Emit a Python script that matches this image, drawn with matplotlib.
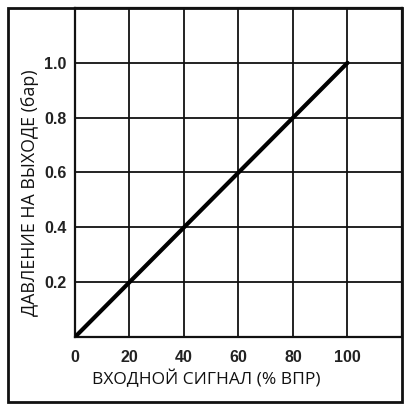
import matplotlib.pyplot as plt
from matplotlib.patches import Rectangle

# Данные
signal = [0, 100]
pressure = [0.0, 1.0]
x_ticks = [0, 20, 40, 60, 80, 100]
y_ticks = [0.2, 0.4, 0.6, 0.8, 1.0]
x_grid = [20, 40, 60, 80, 100]
y_grid = [0.2, 0.4, 0.6, 0.8, 1.0]

W, H = 410, 411
fig = plt.figure(figsize=(W / 100, H / 100), dpi=100)
ax = fig.add_axes([75 / W, (H - 337) / H, (402 - 75) / W, (337 - 8) / H])

ax.set_xlim(0, 120)
ax.set_ylim(0, 1.2)

for gx in x_grid:
    ax.axvline(gx, color='#111111', lw=1.3, zorder=1)
for gy in y_grid:
    ax.axhline(gy, color='#111111', lw=1.3, zorder=1)

ax.plot(signal, pressure, color='black', lw=3, solid_capstyle='round', zorder=3)

ax.set_xticks(x_ticks)
ax.set_yticks(y_ticks)
ax.set_xticklabels([str(t) for t in x_ticks])
ax.set_yticklabels(['%.1f' % t for t in y_ticks])
ax.tick_params(axis='x', length=0, pad=9)
ax.tick_params(axis='y', length=0, pad=6)
for lab in ax.get_xticklabels() + ax.get_yticklabels():
    lab.set_fontfamily('Liberation Sans')
    lab.set_fontweight('bold')
    lab.set_fontsize(11.5)
    lab.set_color('#222222')

for sp in ax.spines.values():
    sp.set_linewidth(1.6)
    sp.set_color('#111111')

ax.set_xlabel('ВХОДНОЙ СИГНАЛ (% ВПР)', fontfamily='Open Sans', fontweight='normal',
              fontsize=12.5, color='#111111', va='center')
ax.xaxis.set_label_coords(0.40, -0.128)
ax.set_ylabel('ДАВЛЕНИЕ НА ВЫХОДЕ (бар)', fontfamily='Open Sans', fontweight='normal',
              fontsize=12.8, color='#111111', va='center')
ax.yaxis.set_label_coords(-0.138, 0.44)

# рамка вокруг всего рисунка
fig.patches.append(Rectangle((8 / W, (H - 402) / H), (402 - 8) / W, (402 - 8) / H,
                             transform=fig.transFigure, fill=False, lw=2, ec='#111111'))

fig.savefig('out.png', dpi=100)
